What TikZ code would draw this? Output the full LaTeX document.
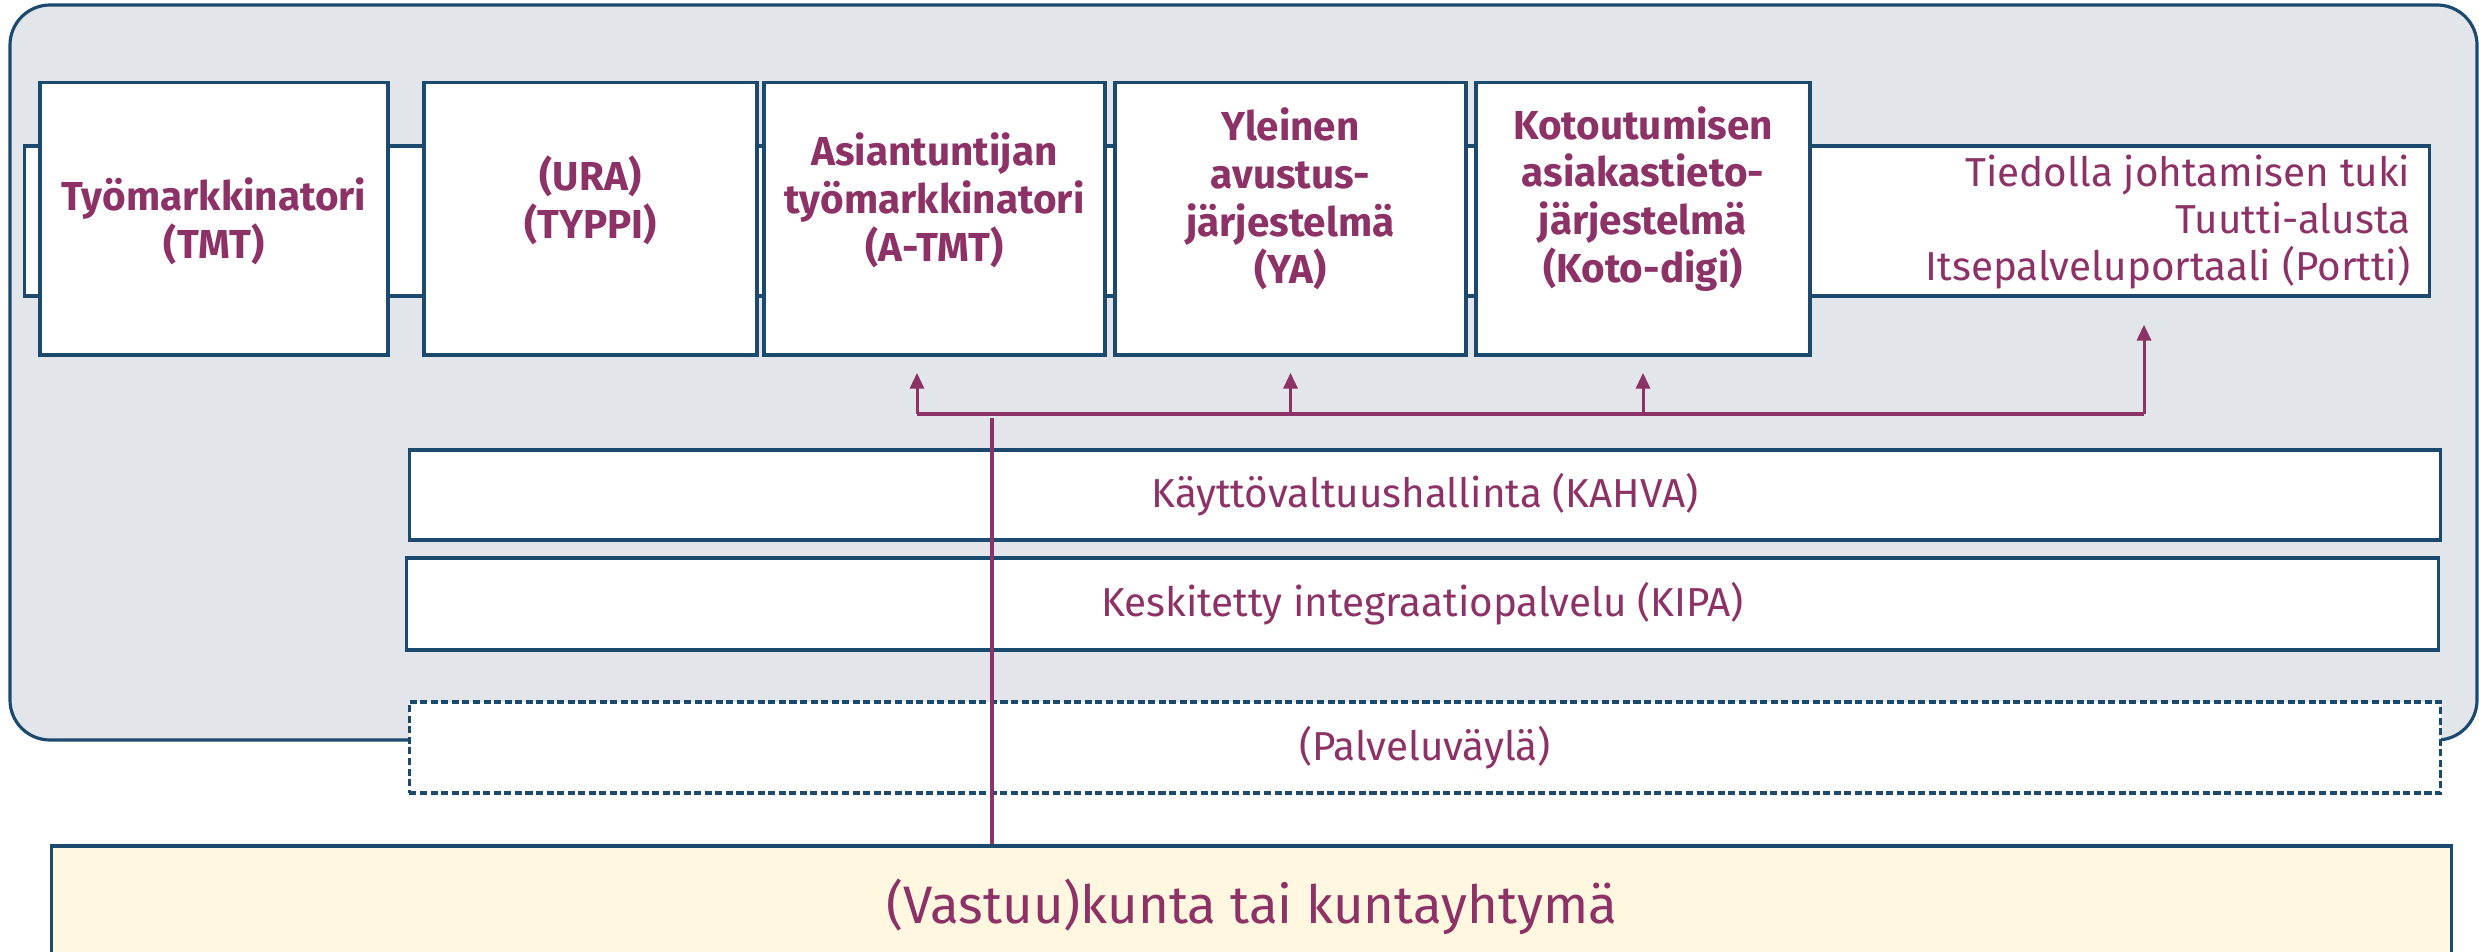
\documentclass[tikz,border=0pt]{standalone}
\usepackage{fontspec}
\setmainfont{Fira Sans}
\usetikzlibrary{arrows.meta}
\definecolor{kehys}{HTML}{1B4A6E}
\definecolor{viini}{HTML}{8D3266}
\definecolor{tausta}{HTML}{E2E6EB}
\definecolor{kunta}{HTML}{FFF7E0}
\tikzset{
  laatikko/.style={draw=kehys, line width=0.9pt, fill=white, inner sep=0pt},
  otsikko/.style={text=viini, font=\fontsize{11.5}{13.6}\selectfont\bfseries, align=center, inner sep=0pt},
  teksti/.style={text=viini, font=\fontsize{11.5}{13.3}\selectfont},
  yhteys/.style={draw=viini, line width=1.1pt},
  nuoli/.style={draw=viini, line width=0.85pt, -{Triangle[length=4.5pt,width=4pt]}, shorten >=4.6pt}
}
\begin{document}
\begin{tikzpicture}[x=0.01cm, y=-0.01cm]
  \useasboundingbox (0,0) rectangle (2479,952);
  \draw[kehys, line width=0.9pt, fill=tausta, rounded corners=0.4cm] (10,5) rectangle (2477,740);
  \node[laatikko, minimum width=24.03cm, minimum height=1.50cm] (tied) at (1227,221) {};
  \node[teksti, anchor=east, align=right, inner sep=0pt] (tied-t) at (2411,222) {Tiedolla johtamisen tuki\\Tuutti-alusta\\Itsepalveluportaali (Portti)};
  \foreach \n/\x/\w/\ty/\t in {tmt/214/348/221/{Työmarkkinatori\\(TMT)}, ura/590.5/333/200/{(URA)\\(TYPPI)}, atmt/934.5/341/200/{Asiantuntijan\\työmarkkinatori\\(A-TMT)}, ya/1290.5/351/199/{Yleinen\\avustus-\\järjestelmä\\(YA)}, koto/1643/334/199/{Kotoutumisen\\asiakastieto-\\järjestelmä\\(Koto-digi)}}{
    \node[laatikko, minimum width=\w*0.01cm, minimum height=2.72cm] (\n) at (\x,219) {};
    \node[otsikko] (\n-t) at (\x,\ty) {\t};
  }
  \node[laatikko, teksti, minimum width=20.30cm, minimum height=0.90cm] (kahva) at (1425,495) {Käyttövaltuushallinta (KAHVA)};
  \node[laatikko, teksti, minimum width=20.31cm, minimum height=0.92cm] (kipa) at (1422.5,604) {Keskitetty integraatiopalvelu (KIPA)};
  \node[laatikko, teksti, dash pattern=on 2pt off 1pt, minimum width=20.30cm, minimum height=0.91cm] (palv) at (1425,747.5) {(Palveluväylä)};
  \node[laatikko, fill=kunta, text=viini, font=\fontsize{15}{18}\selectfont, minimum width=23.99cm, minimum height=1.22cm] (vastuu) at (1251.5,907) {(Vastuu)kunta tai kuntayhtymä};
  \coordinate (bv) at (917,414);
  \coordinate (bo) at (2144,414);
  \coordinate (bk) at (992,418);
  \draw[yhteys] (bv) -- (bo);
  \draw[yhteys] (vastuu.north -| bk) -- (bk);
  \draw[nuoli] (bv) -- (atmt.south -| bv);
  \draw[nuoli] (bv -| ya) -- (ya.south);
  \draw[nuoli] (bv -| koto) -- (koto.south);
  \draw[nuoli, shorten >=7.7pt] (bo) -- (tied.south -| bo);
\end{tikzpicture}
\end{document}
